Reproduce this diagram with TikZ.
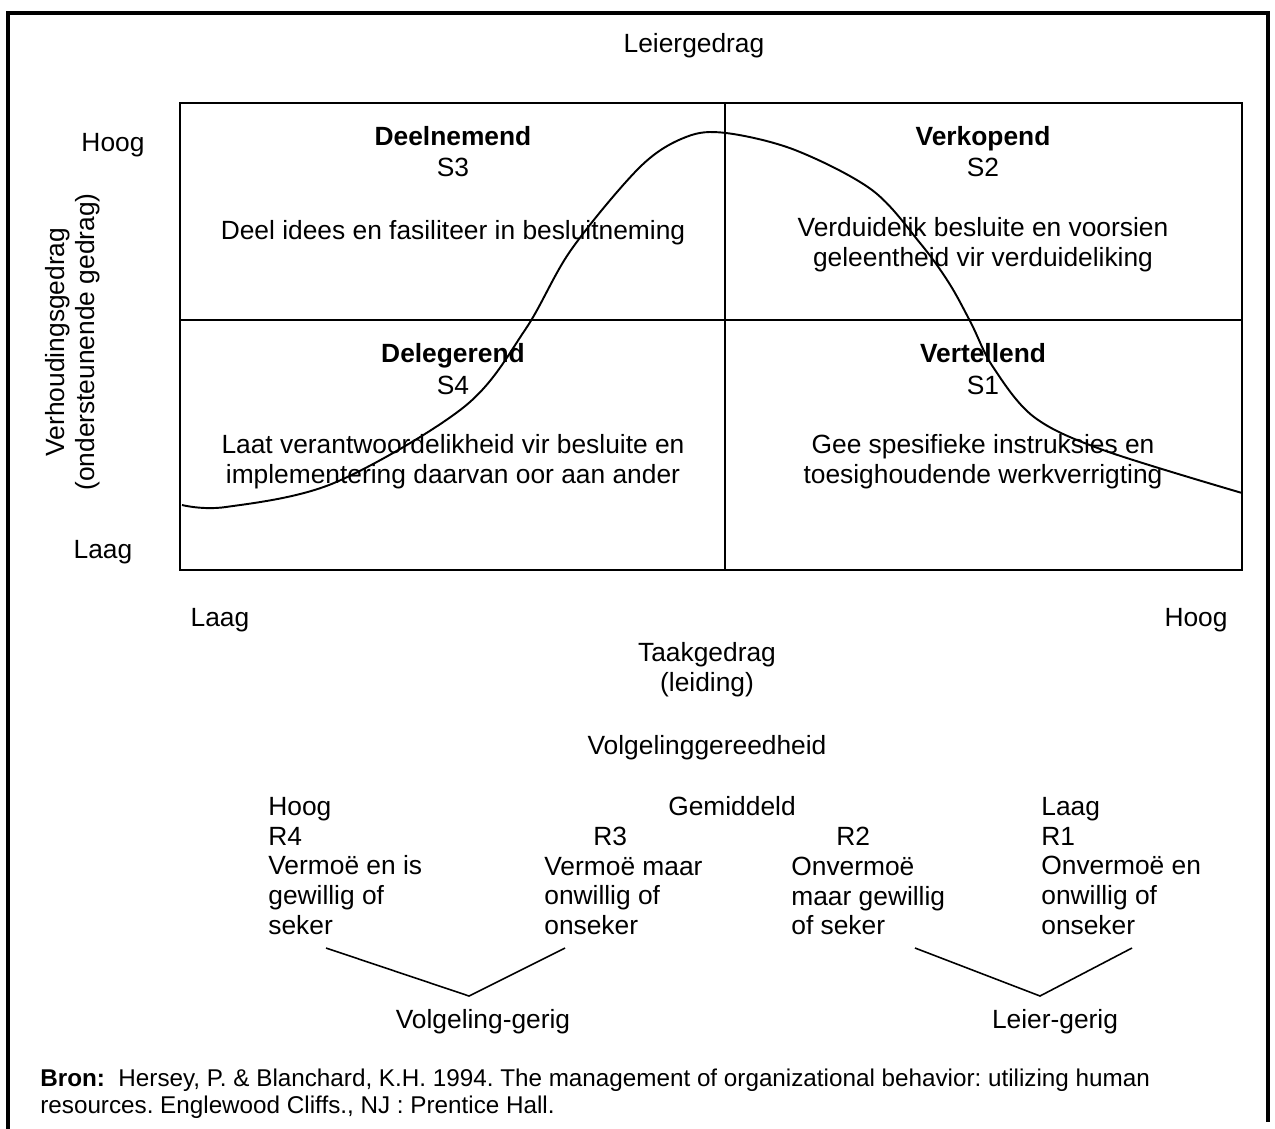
\documentclass[tikz,border=0pt]{standalone}
\usepackage{fontspec}
\setmainfont{Liberation Sans}
\usetikzlibrary{positioning}

\tikzset{
  lbl/.style={inner sep=0pt, font=\fontsize{15}{17}\selectfont},
  word/.style={lbl, text height=10.7pt, text depth=0pt},
  qtitle/.style={word, font=\fontsize{15}{17}\selectfont\bfseries},
  qtext/.style={lbl, align=center},
  rcol/.style={lbl, align=left, anchor=west},
  gridline/.style={line width=0.8pt},
  vline/.style={line width=0.9pt}
}

\begin{document}
\frenchspacing
\begin{tikzpicture}[x=0.02cm, y=-0.02cm, node distance=0.2cm]
  \useasboundingbox (0,0) rectangle (1275,1129);

  % outer frame (open at the bottom)
  \draw[line width=2.3pt] (8,1129) -- (8,13) -- (1268,13) -- (1268,1122);

  % title and axes
  \node[word] (leier) at (694,43) {Leiergedrag};
  \node[word] (yhoog) at (113,142) {Hoog};
  \node[word] (ylaag) at (103,549) {Laag};
  \node[lbl, rotate=90, align=center] (yax) at (73,342)
        {Verhoudingsgedrag\\(ondersteunende gedrag)};
  \node[word] (xlaag) at (220,617) {Laag};
  \node[word] (xhoog) at (1196,617) {Hoog};
  \node[lbl, align=center] (xax) at (707,670) {Taakgedrag\\(leiding)};

  % quadrant grid
  \draw[gridline] (180,103) rectangle (1242,570);
  \draw[gridline] (725,103) -- (725,570);
  \draw[gridline] (180,320) -- (1242,320);

  % quadrants
  \node[qtitle] (s3t) at (453,136) {Deelnemend};
  \node[word] (s3) at (453,167) {S3};
  \node[word] (s3d) at (453,230) {Deel idees en fasiliteer in besluitneming};

  \node[qtitle] (s2t) at (983,136) {Verkopend};
  \node[word] (s2) at (983,167) {S2};
  \node[qtext] (s2d) at (983,245)
        {Verduidelik besluite en voorsien\\geleentheid vir verduideliking};

  \node[qtitle] (s4t) at (453,353) {Delegerend};
  \node[word] (s4) at (453,385) {S4};
  \node[qtext] (s4d) at (453,462)
        {Laat verantwoordelikheid vir besluite en\\implementering daarvan oor aan ander};

  \node[qtitle] (s1t) at (983,353) {Vertellend};
  \node[word] (s1) at (983,385) {S1};
  \node[qtext] (s1d) at (983,462)
        {Gee spesifieke instruksies en\\toesighoudende werkverrigting};

  % leadership curve
  \draw[line width=1.1pt] plot[smooth, tension=0.55] coordinates {
    (182,505) (226,507) (334,483) (464,407) (525,330) (571,250)
    (640,167) (686,137) (726,133) (795,150) (872,190) (920,243)
    (949,283) (971,323) (993,367) (1034,417) (1103,450) (1242,493)};

  % follower readiness
  \node[word] (ready) at (707,745) {Volgelinggereedheid};
  \node[word] (gem) at (732,806) {Gemiddeld};
  \node[rcol] (r4) at (268,866)
        {Hoog\\R4\\Vermoë en is\\gewillig of\\seker};
  \node[word, anchor=west] (r3n) at (593,836) {R3};
  \node[rcol] (r3) at (544,896) {Vermoë maar\\onwillig of\\onseker};
  \node[word, anchor=west] (r2n) at (836,836) {R2};
  \node[rcol] (r2) at (791,896) {Onvermoë\\maar gewillig\\of seker};
  \node[rcol] (r1) at (1041,866)
        {Laag\\R1\\Onvermoë en\\onwillig of\\onseker};

  \node[word] (volg) at (483,1019) {Volgeling-gerig};
  \node[word] (leiergerig) at (1055,1019) {Leier-gerig};

  \coordinate (v4) at (326,948);
  \coordinate (v3) at (565,948);
  \coordinate (vv) at (469,996);
  \coordinate (v2) at (915,948);
  \coordinate (v1) at (1132,948);
  \coordinate (vl) at (1040,996);
  \draw[vline] (v4) -- (vv) -- (v3);
  \draw[vline] (v2) -- (vl) -- (v1);

  % source
  \node[lbl, align=left, anchor=west, font=\fontsize{13.8}{15.4}\selectfont]
        (bron) at (40,1094)
        {\textbf{Bron:}\ \ Hersey, P. \& Blanchard, K.H. 1994. The management of organizational behavior: utilizing human\\resources. Englewood Cliffs., NJ : Prentice Hall.};
\end{tikzpicture}
\end{document}
